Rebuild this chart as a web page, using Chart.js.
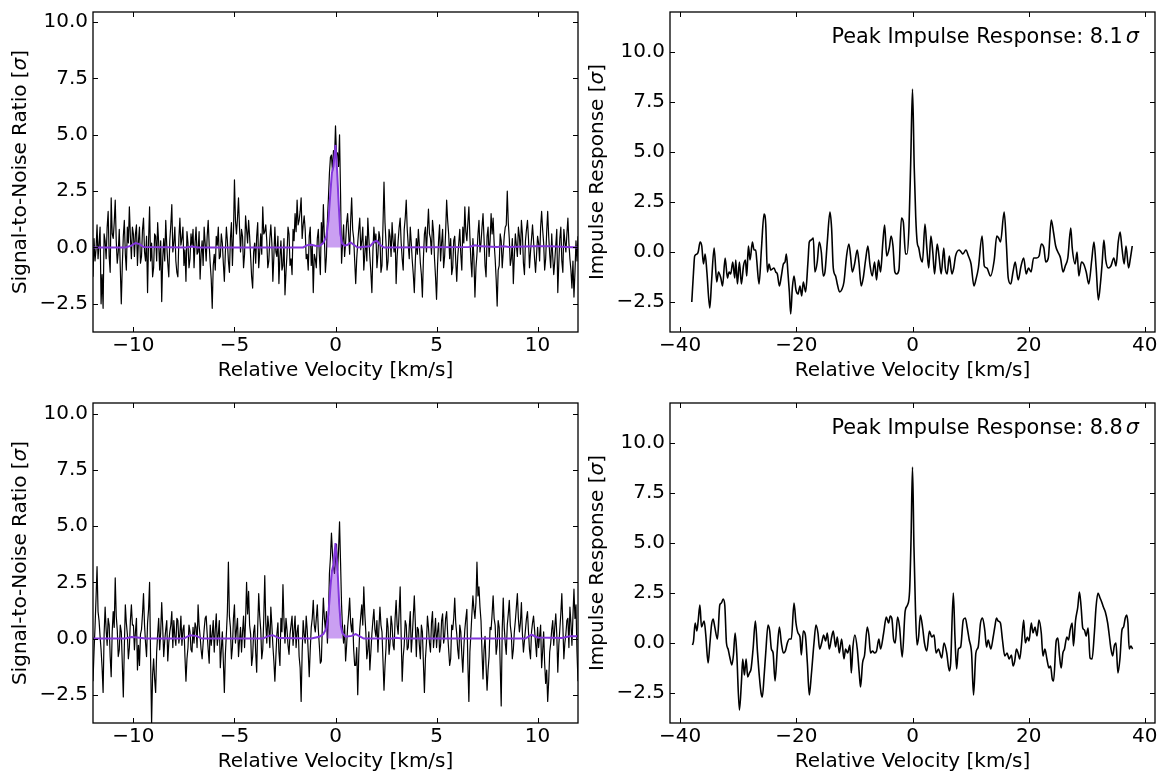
<!DOCTYPE html>
<html>
<head>
<meta charset="utf-8">
<script src="https://cdn.jsdelivr.net/npm/chart.js@4.4.1/dist/chart.umd.min.js"></script>
<style>
  body { margin: 0; background: #fff; }
  #fig { position: relative; width: 1158px; height: 775px; background: #fff; overflow: hidden; }
  #fig canvas { position: absolute; }
</style>
</head>
<body>
<div id="fig">
  <canvas id="snrTopChart"></canvas>
  <canvas id="irTopChart"></canvas>
  <canvas id="snrBottomChart"></canvas>
  <canvas id="irBottomChart"></canvas>
</div>
<script>
// ---- data ----
// left panels: S/N spectrum sampled every 0.05 km/s from -12 to 12 (one row = 1 km/s)
const velStart = -12;
const velStep = 0.05;

const snrTop = [
  -1.3, 0.4, -0.6, -0.1, 1.0, -0.5, 0.2, 0.9, -2.5, -1.2, -2.7, 0.6, 0.3, -0.5, 0.9, 1.6, -0.4, -1.1, 2.2, 0.6,
  0.4, 1.1, 2.1, 0.3, -0.7, -0.2, 0.8, -0.9, -2.5, -0.8, 0.5, 1.2, -0.3, -1.0, 0.9, 0.2, 1.8, 0.5, -0.5, 0.9,
  0.6, -0.4, 0.6, 1.0, -0.8, 0.3, 0.9, -0.7, -0.4, 0.8, 1.3, -0.2, -0.6, 0.5, -2.0, 0.3, 1.8, -0.6, 0.2, -1.3,
  -0.9, 0.6, 0.5, -0.6, 1.1, 0.2, -1.0, 0.3, -2.4, -0.5, 0.4, -0.6, 1.2, 0.1, -0.7, -1.3, 0.3, 1.0, 1.9, -0.2,
  0.2, 0.9, -0.6, -1.1, -1.3, 0.4, 1.3, 0.1, 0.4, 0.9, -0.8, -0.1, -1.5, 0.7, 0.2, -0.9, -0.5, 0.6, 0.1, 0.8,
  -0.9, 0.2, 0.9, -0.3, -0.2, 0.7, -1.4, -0.3, 0.3, -0.8, 0.9, 0.2, -0.6, 0.5, 1.2, 0.1, -0.7, -1.4, -2.7, -0.8,
  -0.3, -1.0, 0.5, 0.1, 0.9, -0.5, -0.4, 0.6, 0.2, -0.7, -1.5, -0.2, 0.9, 0.3, -0.6, -1.1, 0.4, 1.1, -0.8, 0.6,
  3.0, 1.2, 0.6, 1.3, 2.2, 0.9, -0.2, 0.8, 0.5, -0.9, -0.3, 1.4, 0.8, 0.2, 1.2, 0.5, -0.4, -1.3, -1.8, -0.2,
  0.2, -0.7, 0.5, 1.1, -0.9, -0.2, 0.6, -0.3, 1.8, 0.6, 0.7, 1.0, 0.3, -0.9, -0.6, 0.4, 1.0, 0.2, -1.5, -0.4,
  0.9, -0.2, -0.4, 0.5, -1.6, -0.4, 0.3, -1.0, -0.8, 0.4, -2.1, -1.1, -0.3, 0.9, 0.6, -0.8, -0.5, -1.2, 0.8, 0.3,
  1.5, 0.7, 2.1, 1.0, 1.2, 1.6, 2.2, 0.4, 1.0, 1.4, 0.8, -0.5, -0.3, -1.0, 0.5, 0.9, -0.8, 0.1, -2.0, -0.3,
  -0.5, -0.9, 0.4, 0.8, -0.3, -1.2, 1.1, 0.2, 1.9, 0.4, -1.1, -0.4, 1.2, 2.2, 3.3, 4.0, 4.1, 3.4, 4.3, 3.9,
  5.4, 4.1, 4.2, 3.6, 5.0, 2.4, -0.7, 0.2, 1.0, -0.4, 0.2, 1.1, 1.5, 0.6, -0.3, 1.2, 2.2, 0.8, 0.4, -0.6,
  -1.6, -0.5, 0.2, 0.8, 1.3, -0.1, 0.3, 0.9, -1.0, -0.3, 0.5, -0.6, 1.3, 0.4, -0.4, -1.1, -2.0, -0.2, 0.9, 0.2,
  0.6, -0.9, -0.3, 0.7, 0.4, -1.1, -0.8, 1.0, 2.9, 1.1, 0.2, -1.0, -0.6, 0.8, 0.5, -0.4, 1.1, 0.3, -0.2, 0.6,
  -1.6, -0.4, 0.3, 0.9, 1.3, 0.2, -0.5, -1.0, 0.8, 1.3, 2.1, 0.8, 0.1, -0.5, 0.9, 0.2, -0.6, -1.2, -2.0, -0.6,
  0.4, -0.3, 0.8, 0.1, -0.7, -1.2, -2.2, -0.5, 0.6, 0.9, -0.2, 0.8, 1.7, 0.6, 0.4, -0.3, 1.2, 0.7, -0.5, -1.3,
  -2.3, -0.8, 0.3, 1.0, -0.6, 0.2, 0.8, -0.9, -0.4, 0.7, 2.1, 1.2, 0.6, -0.5, 0.4, -1.2, -0.9, 0.3, 0.5, -0.6,
  -1.5, -0.4, 0.2, 0.8, -0.3, -1.0, 0.9, 0.2, 1.8, 0.7, 0.3, 1.1, 1.8, 0.5, -0.6, -1.3, 0.4, -0.5, -2.2, -0.9,
  -0.3, 0.6, 1.2, -0.2, 0.2, 0.9, 1.5, 0.4, -0.8, -1.3, 0.5, 0.9, -0.4, 0.3, 1.5, 0.6, 1.3, 0.2, -0.5, -1.4,
  -2.6, -1.0, -0.8, 0.6, 0.3, -0.9, -0.2, 0.5, 0.9, 1.0, 2.5, 1.1, 0.4, -0.8, -0.5, 0.4, -1.6, -0.4, 0.6, 0.1,
  -0.4, 0.9, 0.5, -0.3, 1.2, 0.6, -0.7, -1.2, 0.3, 0.8, 1.2, 0.4, -0.9, -0.2, 0.4, 1.0, 0.3, -0.5, -1.1, -0.3,
  0.5, 0.2, -0.6, 0.9, 1.6, 0.8, 0.2, -1.0, -0.5, 0.7, 1.6, 0.5, -0.3, -0.9, 0.6, -0.4, -1.2, -0.6, 0.1, 0.8,
  -2.0, -0.7, 0.4, 0.9, -0.6, -1.1, 0.8, 0.3, -0.2, 0.6, 1.3, 0.2, -0.5, -1.0, -1.8, -0.6, -2.2, -1.1, 0.3, -0.6,
  0.5
];

const snrBottom = [
  -1.9, -0.6, 0.5, 1.8, 3.2, 1.2, 0.8, 0.1, -0.5, -1.3, -2.4, 0.2, 1.4, 0.4, -0.3, 0.9, 0.6, -0.8, -1.7, 0.3,
  1.2, 0.5, 2.7, 1.0, 0.4, -0.8, -0.5, 0.6, 0.3, -1.1, -2.6, -0.4, 1.5, 0.7, 0.2, -0.9, -0.4, 0.8, 1.5, 0.6,
  0.6, -0.5, 0.3, 0.9, -1.4, -0.3, -1.2, 0.2, 0.4, 1.1, 2.0, 0.6, -0.2, -0.8, 0.7, 1.3, 2.5, -0.9, -3.8, -1.6,
  -0.9, -1.8, -2.4, -0.6, 0.2, 0.9, -0.5, 0.3, 1.6, 0.5, -0.8, -0.1, 0.4, 0.8, -1.0, -0.2, 0.3, 0.6, 1.2, -0.4,
  0.8, 0.1, -0.3, 0.9, 0.8, -0.2, 0.2, 1.0, -0.3, 0.4, 0.6, -0.8, -1.9, -0.9, -0.4, 0.6, 0.3, -0.5, -0.6, 0.5,
  -0.2, 0.7, 0.5, -0.4, 1.5, 0.6, 0.1, -0.5, -0.9, -0.2, 0.4, 0.9, 1.0, 0.2, -0.5, -1.1, 0.6, -0.3, 0.2, 0.8,
  -0.6, 0.4, 1.1, -0.3, 0.2, 0.8, -1.3, -0.5, 0.3, -1.0, -2.4, -0.7, 0.2, 1.2, 3.4, 1.0, 0.5, -0.9, -0.4, 0.9,
  1.5, -0.2, 0.4, 0.9, -0.8, -0.1, 0.5, -0.6, 0.3, 1.0, -0.4, 0.8, 2.5, 1.1, 2.1, 0.6, 0.2, -1.2, -0.8, 0.3,
  0.6, -0.6, -1.5, 0.5, 2.0, 1.0, 0.4, -0.9, -0.5, 0.9, 2.8, 0.7, -0.2, 1.0, 0.5, -0.4, 1.4, 0.6, -0.3, -1.0,
  -1.9, -0.8, 0.2, 0.7, -0.6, -1.2, 0.9, 0.3, 2.4, 0.8, -0.2, 0.9, 0.4, -0.3, -0.7, 0.2, 0.6, 1.0, -0.3, 0.4,
  1.0, -0.4, 0.3, 0.6, -0.8, -1.3, -2.8, -0.6, 0.8, 0.2, -0.2, 1.0, 0.4, -0.6, -1.7, -0.5, 0.5, 0.9, 1.7, 0.6,
  0.3, 0.9, 1.5, 0.4, -0.3, -1.1, -1.0, 0.6, 1.8, 0.9, 0.4, 1.2, -0.2, 1.0, 2.9, 3.6, 4.7, 3.8, 3.2, 2.9,
  3.5, 4.2, 3.0, 3.9, 5.2, 3.4, 1.5, 0.4, -0.2, 0.6, -1.0, -0.3, 0.5, 1.1, 1.8, 0.7, 0.3, 0.9, -0.5, -1.2,
  -1.2, -0.4, -2.5, -0.8, 0.4, 1.0, 1.5, 0.6, 2.3, 1.1, 0.3, -0.9, -0.5, 0.3, -1.4, -0.6, 0.2, 0.8, 1.3, 0.4,
  0.1, 0.8, -0.6, 0.5, 1.4, 0.6, 0.3, -1.0, -2.3, -1.2, -0.4, 0.9, 0.5, -0.7, -0.2, 1.0, 0.6, -0.3, -0.5, 0.9,
  1.7, 0.6, 0.2, 1.2, 2.3, 0.1, -1.9, -0.8, -0.3, 0.8, 0.6, -0.5, -0.4, 0.5, 1.2, -0.6, 0.1, 1.0, 1.9, 0.7,
  -0.8, 0.5, 0.4, -0.3, -0.9, 0.6, 0.3, -1.1, -2.4, -0.9, -0.2, 1.0, 0.5, -0.2, -0.6, 0.7, 1.2, -0.4, 0.2, 0.9,
  -0.4, 0.3, 0.7, -0.6, -0.3, 0.8, 1.1, -0.2, 0.1, 0.9, 1.2, 0.2, -0.5, -1.2, -0.9, 0.6, 0.4, 0.9, 1.8, 0.7,
  0.2, -0.5, -0.9, 0.6, 0.3, -0.7, -1.5, -0.4, 0.4, 0.9, 1.3, -1.1, -2.8, -0.6, 0.2, 1.1, 1.9, 1.3, 0.9, 1.6,
  3.4, 1.9, 2.3, 1.4, 0.8, -0.6, -1.8, -0.5, 0.1, -1.2, -2.3, -1.4, -0.8, 0.5, 0.4, 1.1, 1.9, 0.9, 0.6, -0.7,
  -0.3, 0.8, 0.5, -1.2, -3.0, 0.4, 1.8, 0.5, -0.2, -0.7, 0.6, 1.1, 1.7, 0.6, 0.2, -0.9, -0.5, 0.3, 0.8, 1.4,
  2.0, 0.9, 0.3, 0.7, 1.6, 0.2, -0.6, -0.1, 0.4, 0.9, 1.2, 0.3, -0.5, -0.9, 0.3, 0.7, 1.0, 0.4, -0.2, -0.8,
  0.5, -0.4, 0.1, 0.6, -1.3, -0.6, 0.3, -1.1, -2.0, -1.4, -2.8, -1.9, -0.6, -0.2, 0.4, 0.8, -0.3, 0.5, 1.1, 0.2,
  -1.5, -0.3, 0.4, 1.1, 2.0, 0.6, -0.9, -0.2, 0.2, 0.8, 0.9, -0.4, 1.4, 0.7, -0.3, 1.0, 2.2, 0.9, 1.5, -0.6,
  -1.9
];

// fitted line profile (purple)
const modelVelTop = [-12, -10.4, -10.1, -9.9, -9.7, -9.5, -7.4, -7.1, -6.8, -1.6, -1.4, -1.2, -1.0, -0.8, -0.6,
  -0.45, -0.35, -0.24, -0.18, -0.1, 0, 0.08, 0.16, 0.24, 0.32, 0.45, 0.6, 0.75, 0.9, 1.1, 1.7, 1.9, 2.05,
  2.2, 2.4, 6.6, 6.9, 7.2, 8.0, 8.3, 8.6, 9.8, 10.6, 12];
const modelTop = [0, 0, 0.08, 0.2, 0.15, 0.02, 0, 0.04, 0, 0, 0.1, 0.12, 0.08, 0.06, 0.2,
  0.5, 1.2, 2.6, 3.3, 3.6, 4.55, 3.4, 1.9, 0.6, 0.2, 0.08, 0.12, 0.22, 0.12, 0, 0.05, 0.25, 0.3,
  0.12, 0, 0.02, 0.1, 0.05, 0.02, 0.06, 0.02, 0.05, 0.05, 0];

const modelVelBottom = [-12, -10.4, -10.1, -9.8, -9.4, -7.5, -7.2, -6.9, -6.6, -3.6, -3.3, -3.1, -2.8, -1.2,
  -0.8, -0.6, -0.45, -0.35, -0.25, -0.18, -0.1, 0, 0.1, 0.18, 0.26, 0.34, 0.5, 0.8, 1.0, 1.2, 1.4, 2.8,
  3.0, 3.3, 9.4, 9.7, 10.0, 11.2, 11.6, 12];
const modelBottom = [0, 0, 0.07, 0.05, 0, 0, 0.15, 0.12, 0, 0, 0.12, 0.15, 0.02, 0,
  0.08, 0.2, 0.45, 1.1, 2.3, 3.0, 3.3, 4.25, 3.1, 1.6, 0.6, 0.25, 0.08, 0.12, 0.2, 0.1, 0, 0,
  0.04, 0, 0, 0.17, 0.05, 0.03, 0.1, 0.1];

// shaded part of the profile
const fillLo = -0.45;
const fillHi = 0.34;

// right panels: impulse response
const irVelTop = [
  -38.0, -37.7, -37.5, -37.1, -36.9, -36.56, -36.28, -35.99, -35.7, -35.4,
  -34.9, -34.6, -34.15, -33.7, -33.4, -33.0, -32.7, -32.26, -31.86, -31.58,
  -31.3, -30.95, -30.6, -30.43, -30.14, -29.8, -29.46, -29.1, -28.77, -28.54,
  -28.25, -27.97, -27.56, -27.28, -26.99, -26.82, -26.42, -26.0, -25.56, -25.27,
  -24.98, -24.7, -24.41, -23.84, -23.55, -23.27, -22.92, -22.58, -22.23, -21.95,
  -21.72, -21.43, -21.2, -20.97, -20.69, -20.4, -20.06, -19.71, -19.37, -19.08,
  -18.8, -18.4, -18.0, -17.77, -17.42, -17.08, -16.8, -16.4, -16.05, -15.7,
  -15.36, -15.07, -14.67, -14.21, -13.93, -13.64, -13.24, -12.95, -12.55, -12.21,
  -11.8, -11.35, -10.95, -10.66, -10.37, -9.97, -9.51, -9.23, -8.83, -8.48,
  -8.08, -7.68, -7.34, -6.93, -6.53, -6.19, -5.85, -5.5, -5.1, -4.8,
  -4.44, -4.0, -3.68, -3.36, -3.04, -2.72, -2.34, -1.9, -1.58, -1.2,
  -0.95, -0.6, -0.3, 0, 0.3, 0.55, 0.8, 1.08, 1.39, 1.71,
  2.15, 2.47, 2.79, 3.17, 3.49, 3.8, 4.25, 4.56, 4.94, 5.39,
  5.64, 5.96, 6.34, 6.78, 7.1, 7.41, 8.05, 8.37, 8.68, 9.19,
  9.63, 10.08, 10.58, 10.9, 11.34, 11.98, 12.36, 12.8, 13.43, 14.07,
  14.51, 14.83, 15.15, 15.78, 16.16, 16.48, 16.92, 17.3, 17.68, 18.19,
  18.69, 19.14, 19.58, 19.96, 20.41, 20.85, 21.36, 21.8, 22.18, 22.62,
  22.94, 23.38, 23.89, 24.27, 24.65, 25.03, 25.48, 25.92, 26.3, 26.74,
  27.25, 27.5, 28.0, 28.33, 28.64, 29.09, 29.47, 29.91, 30.35, 30.86,
  31.24, 31.62, 32.0, 32.38, 32.64, 32.95, 33.27, 33.71, 34.16, 34.66,
  35.04, 35.42, 35.74, 36.06, 36.44, 36.76, 37.2, 37.52, 37.83
];
const irTop = [
  -2.5, -1.0, -0.2, -0.1, 0.0, 0.5, 0.3, -0.6, -0.1, -1.0,
  -2.8, -1.5, 0.2, -1.5, -1.0, -1.3, -1.7, -0.3, -1.3, -1.0,
  -1.1, -0.5, -1.3, -0.4, -1.6, -0.5, -1.6, -0.7, -0.4, -1.2,
  0.3, -0.4, 0.5, 0.1, 0.1, -0.4, -1.6, 0.2, 1.9, 1.4,
  -1.0, -0.6, -0.9, -0.8, -1.0, -1.1, -1.7, -1.2, -0.6, -0.5,
  -0.1, -1.1, -2.0, -3.1, -1.8, -1.2, -1.9, -2.1, -1.7, -2.2,
  -1.5, -2.0, -0.5, 0.5, 0.6, 0.7, -1.0, -0.5, 0.5, 0.0,
  -1.2, -1.0, 0.5, 2.0, 1.2, -0.8, -1.2, -1.6, -2.0, -1.9,
  -1.5, -0.2, 0.4, -0.2, -1.0, -0.6, 0.1, -0.5, -1.7, -1.3,
  -0.4, 0.3, -0.6, -1.2, -0.5, -1.4, -0.4, -1.0, 0.5, 1.35,
  -0.2, 0.2, 0.8, 0.3, -1.0, -1.1, -0.9, 1.7, 1.5, -0.1,
  -0.1, 1.3, 4.6, 8.15, 4.2, 1.8, 0.5, 0.2, -0.3, -0.5,
  1.4, 0.2, -0.8, 0.8, 0.0, -1.1, 0.4, -0.2, -1.1, 0.2,
  -0.8, -1.1, -0.2, -1.1, -0.8, -0.2, 0.1, 0.0, -0.1, 0.1,
  -0.2, -0.6, -1.7, -1.4, -0.8, 0.8, -0.7, -0.8, -1.2, -0.4,
  0.8, 0.7, 0.5, 2.0, 0.4, -1.3, -1.6, -1.0, -0.5, -1.4,
  -0.7, -0.3, -1.1, -0.8, -1.0, -0.3, -0.3, -0.2, 0.4, 0.2,
  -0.5, -0.3, 1.6, 1.0, 0.3, 0.0, -0.3, -1.0, -0.7, -0.3,
  1.2, 0.2, -0.6, 0.0, -1.2, -0.5, -0.6, -1.0, -1.6, -0.4,
  0.5, -0.8, -2.4, -1.5, -0.6, 0.6, -0.4, -0.8, -0.7, -0.3,
  -0.7, 0.5, 1.0, 0.2, -0.6, 0.3, -0.8, -0.3, 0.3
];

const irVelBottom = [
  -37.88, -37.7, -37.42, -37.13, -36.9, -36.6, -36.33, -36.05, -35.87, -35.59,
  -35.19, -34.9, -34.6, -34.33, -34.04, -33.58, -33.18, -32.9, -32.6, -32.32,
  -32.03, -31.75, -31.46, -31.1, -30.83, -30.54, -30.26, -29.8, -29.46, -29.23,
  -28.94, -28.65, -28.37, -28.08, -27.8, -27.45, -27.05, -26.7, -26.36, -26.07,
  -25.85, -25.56, -25.27, -24.87, -24.58, -24.3, -24.0, -23.67, -23.27, -22.92,
  -22.58, -22.23, -21.89, -21.55, -21.2, -20.86, -20.4, -20.06, -19.71, -19.37,
  -19.14, -18.8, -18.45, -18.1, -17.77, -17.42, -16.96, -16.62, -16.28, -15.99,
  -15.64, -15.3, -14.96, -14.67, -14.33, -13.92, -13.64, -13.24, -12.95, -12.6,
  -12.2, -11.8, -11.52, -11.17, -10.77, -10.54, -10.26, -9.91, -9.51, -9.17,
  -8.94, -8.6, -8.25, -7.79, -7.51, -7.22, -6.88, -6.53, -6.19, -5.79,
  -5.5, -4.97, -4.51, -4.11, -3.83, -3.54, -3.26, -2.97, -2.57, -2.23,
  -1.77, -1.26, -0.86, -0.5, -0.25, 0, 0.25, 0.5, 0.78, 1.05,
  1.35, 1.77, 2.06, 2.46, 2.91, 3.31, 3.71, 4.06, 4.46, 5.03,
  5.43, 5.89, 6.34, 6.57, 7.03, 7.31, 7.6, 7.89, 8.29, 8.74,
  9.09, 9.43, 9.77, 10.17, 10.51, 10.91, 11.31, 11.71, 12.06, 12.46,
  12.74, 13.03, 13.49, 13.89, 14.17, 14.46, 14.74, 15.14, 15.49, 15.89,
  16.29, 16.63, 17.03, 17.31, 17.6, 17.89, 18.17, 18.46, 18.74, 19.14,
  19.43, 19.77, 20.06, 20.46, 20.74, 21.09, 21.43, 21.77, 22.17, 22.46,
  22.8, 23.14, 23.49, 23.77, 24.06, 24.29, 24.74, 25.03, 25.31, 25.6,
  25.89, 26.17, 26.57, 26.86, 27.14, 27.49, 27.71, 28.06, 28.46, 28.74,
  29.03, 29.31, 29.6, 29.89, 30.23, 30.57, 30.91, 31.31, 31.6, 31.94,
  32.29, 32.57, 32.86, 33.2, 33.6, 33.89, 34.17, 34.46, 34.74, 35.03,
  35.37, 35.71, 36.06, 36.34, 36.63, 36.86, 37.09, 37.31, 37.6, 37.89
];
const irBottom = [
  -0.1, 0.1, 1.0, 0.6, 1.1, 1.9, 0.8, 1.0, 1.1, 0.4,
  -1.0, -0.1, 0.9, 1.2, 0.8, 0.2, 1.9, 2.0, 2.2, 1.9,
  0.0, -0.3, -0.7, -1.1, -0.6, 0.5, -0.5, -3.35, -2.0, -0.8,
  -1.6, -0.8, -1.7, -1.5, -1.3, -0.3, 1.1, -0.4, -1.7, -2.5,
  -2.7, -1.7, -0.5, 0.9, 0.6, -0.3, -0.5, -1.9, -0.3, 0.8,
  0.0, -0.5, -0.4, 0.0, 0.2, 0.2, 2.0, 1.0, 0.5, 0.3,
  -0.6, 0.6, 0.4, -1.0, -2.6, -1.6, 0.0, 0.9, 0.5, -0.3,
  0.0, 0.4, 0.1, 0.5, -0.3, 0.3, 0.6, -0.2, 0.3, -0.5,
  0.2, -0.8, -0.3, -0.5, -0.1, -1.5, -0.2, 0.4, -0.3, -1.5,
  -2.2, -1.0, -0.6, 0.8, 0.4, -0.5, -0.4, -0.5, -0.4, 0.2,
  -0.3, 0.5, 1.3, 1.0, 1.35, 1.2, 0.2, 0.0, 1.3, 0.8,
  -0.7, 1.6, 1.9, 2.6, 5.2, 8.8, 4.8, 1.8, -0.1, 0.3,
  1.4, 0.7, 0.0, -0.4, 0.6, 0.3, 0.4, -0.5, -0.3, -0.75,
  0.0, -0.5, -1.4, -1.0, 2.5, 0.3, -1.3, -0.3, -0.2, 1.15,
  1.25, 0.75, 0.15, -0.5, -2.6, -0.5, -0.2, 1.0, 1.25, 0.6,
  -0.2, 0.15, -0.3, 0.3, 0.8, 1.25, 1.1, 1.0, 0.15, -0.65,
  -0.5, -0.8, -0.6, -1.15, -0.9, -0.3, -0.5, -0.8, -0.15, 1.15,
  0.0, 0.3, 0.1, 1.0, 0.5, 0.8, 0.35, 1.15, 0.5, -0.65,
  -0.3, -0.8, -1.25, -1.15, -1.8, -1.9, 0.1, 0.25, -0.65, -1.25,
  -0.5, -0.3, 0.3, 0.15, 0.65, 1.0, -0.15, 1.1, 1.8, 2.55,
  1.8, 0.75, 0.65, 0.35, 0.75, -0.75, -0.8, 0.5, 1.8, 2.5,
  2.25, 2.05, 1.8, 1.55, 1.0, 0.35, -0.3, -0.65, -0.15, 0.0,
  -1.5, -0.8, 0.65, 0.8, 1.25, 1.4, 1.0, -0.3, -0.15, -0.3
];

const peakTop = 8.1;
const peakBottom = 8.8;

// axis ticks
const snrVelTicks = [-10, -5, 0, 5, 10];
const irVelTicks = [-40, -20, 0, 20, 40];
const sigmaTicks = [-2.5, 0, 2.5, 5, 7.5, 10];

// ---- drawing ----
Chart.defaults.font.family = "'DejaVu Sans'";
Chart.defaults.color = '#000';

const TICK_LEN = 5;
const FRAME_H = 320;
const PURPLE = '#8236dc';

function fmt(v, d) {
  return (v < 0 ? '\u2212' : '') + Math.abs(v).toFixed(d);
}

function pairs(xs, ys) {
  return xs.map((x, i) => ({ x: x, y: ys[i] }));
}

// text with an italic sigma in it (matplotlib mathtext look)
function sigmaText(ctx, before, after, x, y, align, rot, gap, size) {
  const normal = size + 'px "DejaVu Sans"';
  const italic = 'italic ' + size + 'px "DejaVu Sans"';
  ctx.font = normal;
  const w1 = ctx.measureText(before).width;
  const w3 = ctx.measureText(after).width;
  ctx.font = italic;
  const w2 = ctx.measureText('\u03c3').width;
  const total = w1 + gap + w2 + w3;
  const start = align === 'right' ? -total : -total / 2;
  ctx.save();
  ctx.translate(x, y);
  ctx.rotate(rot);
  ctx.fillStyle = '#000';
  ctx.textBaseline = 'middle';
  ctx.textAlign = 'left';
  ctx.font = normal;
  ctx.fillText(before, start, 0);
  ctx.font = italic;
  ctx.fillText('\u03c3', start + w1 + gap, 0);
  ctx.font = normal;
  ctx.fillText(after, start + w1 + gap + w2, 0);
  ctx.restore();
}

// inward ticks on all four sides, box frame, y label, peak note
const axesFrame = {
  id: 'axesFrame',
  afterDraw(chart, args, opts) {
    const { ctx, chartArea: a, scales: { x, y } } = chart;
    ctx.save();
    ctx.strokeStyle = '#000';
    ctx.lineWidth = 1;
    ctx.beginPath();
    x.ticks.forEach(t => {
      const px = Math.round(x.getPixelForValue(t.value)) + 0.5;
      ctx.moveTo(px, a.bottom);
      ctx.lineTo(px, a.bottom - TICK_LEN);
      ctx.moveTo(px, a.top);
      ctx.lineTo(px, a.top + TICK_LEN);
    });
    y.ticks.forEach(t => {
      const py = Math.round(y.getPixelForValue(t.value)) + 0.5;
      ctx.moveTo(a.left, py);
      ctx.lineTo(a.left + TICK_LEN, py);
      ctx.moveTo(a.right, py);
      ctx.lineTo(a.right - TICK_LEN, py);
    });
    ctx.stroke();
    ctx.lineWidth = 1.3;
    ctx.strokeRect(a.left, a.top, a.right - a.left, a.bottom - a.top);

    sigmaText(ctx, opts.yTitle + ' [', ']', opts.yTitleX, (a.top + a.bottom) / 2, 'center', -Math.PI / 2, 0, 20);
    if (opts.peak != null) {
      sigmaText(ctx, 'Peak Impulse Response: ' + opts.peak.toFixed(1), '', a.right - 16, a.top + 26, 'right', 0, 3, 20.8);
    }
    ctx.restore();
  }
};

function buildPanel(id, box, cfg) {
  const canvas = document.getElementById(id);
  canvas.width = box.width;
  canvas.height = box.height;
  canvas.style.left = box.left + 'px';
  canvas.style.top = box.top + 'px';
  const xAxisH = box.height - box.padTop - FRAME_H;

  return new Chart(canvas, {
    type: 'line',
    data: { datasets: cfg.datasets },
    options: {
      responsive: false,
      animation: false,
      devicePixelRatio: 1,
      layout: { padding: { top: box.padTop, right: box.padRight, bottom: 0, left: 0 } },
      plugins: {
        legend: { display: false },
        tooltip: { enabled: false },
        axesFrame: { yTitle: cfg.yTitle, yTitleX: box.yTitleX, peak: cfg.peak }
      },
      scales: {
        x: {
          type: 'linear',
          min: cfg.xMin,
          max: cfg.xMax,
          grid: { display: false, drawTicks: false },
          border: { display: false },
          ticks: {
            padding: 2,
            autoSkip: false,
            maxRotation: 0,
            font: { size: 20 },
            color: '#000',
            callback: v => fmt(v, 0)
          },
          afterBuildTicks: s => { s.ticks = cfg.xTicks.map(v => ({ value: v })); },
          afterFit: s => { s.height = xAxisH; s.paddingLeft = 0; s.paddingRight = 0; },
          title: {
            display: true,
            text: 'Relative Velocity [km/s]',
            font: { size: 20 },
            color: '#000',
            padding: { top: 0, bottom: box.xTitlePad }
          }
        },
        y: {
          type: 'linear',
          min: cfg.yMin,
          max: cfg.yMax,
          grid: { display: false, drawTicks: false },
          border: { display: false },
          ticks: {
            padding: 5,
            font: { size: 20 },
            color: '#000',
            callback: v => fmt(v, 1)
          },
          afterBuildTicks: s => { s.ticks = sigmaTicks.map(v => ({ value: v })); },
          afterFit: s => { s.width = box.yAxisW; s.paddingTop = 0; s.paddingBottom = 0; }
        }
      }
    },
    plugins: [axesFrame]
  });
}

function snrDatasets(snr, modelVel, model) {
  const grid = snr.map((_, i) => velStart + i * velStep);
  const modelPts = pairs(modelVel, model);
  return [
    { data: modelPts, borderColor: PURPLE, borderWidth: 2, pointRadius: 0, fill: false, order: 1, clip: 0 },
    { data: modelPts.filter(p => p.x >= fillLo && p.x <= fillHi), borderWidth: 0, pointRadius: 0,
      backgroundColor: 'rgba(138, 43, 226, 0.45)', fill: 'origin', order: 2, clip: 0 },
    { data: pairs(grid, snr), borderColor: '#000', borderWidth: 1.2, pointRadius: 0,
      borderJoinStyle: 'round', fill: false, order: 3, clip: 0 }
  ];
}

function irDatasets(vel, ir) {
  return [
    { data: pairs(vel, ir), borderColor: '#000', borderWidth: 1.6, pointRadius: 0,
      cubicInterpolationMode: 'monotone', borderJoinStyle: 'round', fill: false, clip: 0 }
  ];
}

buildPanel('snrTopChart',
  { left: 0, top: 0, width: 582, height: 390, yAxisW: 93, padTop: 12, padRight: 4, xTitlePad: 7, yTitleX: 21 },
  { datasets: snrDatasets(snrTop, modelVelTop, modelTop), xMin: -12, xMax: 12, yMin: -3.75, yMax: 10.45,
    xTicks: snrVelTicks, yTitle: 'Signal-to-Noise Ratio' });

buildPanel('snrBottomChart',
  { left: 0, top: 390, width: 582, height: 385, yAxisW: 93, padTop: 13, padRight: 4, xTitlePad: 1, yTitleX: 21 },
  { datasets: snrDatasets(snrBottom, modelVelBottom, modelBottom), xMin: -12, xMax: 12, yMin: -3.76, yMax: 10.49,
    xTicks: snrVelTicks, yTitle: 'Signal-to-Noise Ratio' });

buildPanel('irTopChart',
  { left: 582, top: 0, width: 576, height: 390, yAxisW: 88, padTop: 12, padRight: 3, xTitlePad: 7, yTitleX: 16 },
  { datasets: irDatasets(irVelTop, irTop), xMin: -41.75, xMax: 41.75, yMin: -4, yMax: 12,
    xTicks: irVelTicks, yTitle: 'Impulse Response', peak: peakTop });

buildPanel('irBottomChart',
  { left: 582, top: 390, width: 576, height: 385, yAxisW: 88, padTop: 13, padRight: 3, xTitlePad: 1, yTitleX: 16 },
  { datasets: irDatasets(irVelBottom, irBottom), xMin: -41.75, xMax: 41.75, yMin: -4, yMax: 12,
    xTicks: irVelTicks, yTitle: 'Impulse Response', peak: peakBottom });
</script>
</body>
</html>
